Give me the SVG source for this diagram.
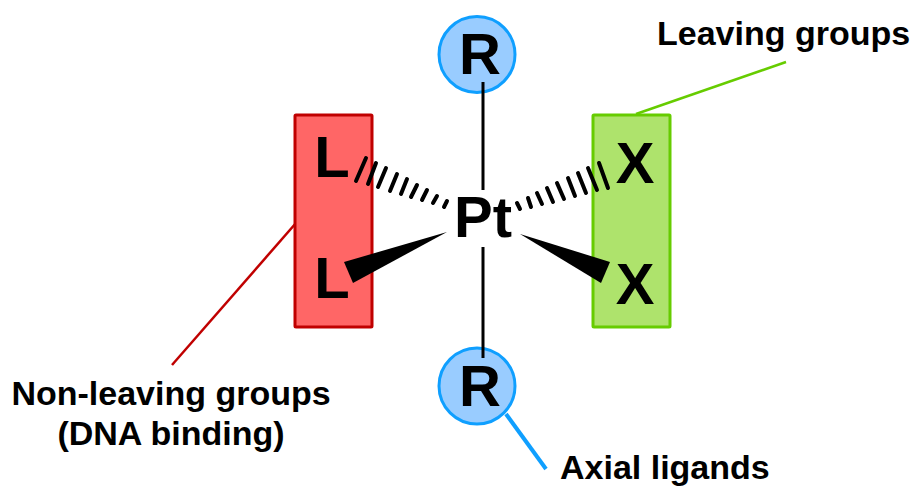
<svg xmlns="http://www.w3.org/2000/svg" width="914" height="486" viewBox="0 0 914 486">
<style>
text{font-family:"Liberation Sans",Arial,sans-serif;font-weight:bold;fill:#000}
.a{font-size:58px;text-anchor:middle}
.l{font-size:34px}
.c{fill:#99ccff;stroke:#0f9fff;stroke-width:3}
.b{stroke:#000;stroke-width:3;fill:none}
.h{stroke:#000;stroke-width:4;stroke-linecap:round;fill:none}
</style>
<rect width="914" height="486" fill="#fff"/>
<g id="connectors">
<path d="M172 365L296 223" stroke="#c00000" stroke-width="2.5" fill="none"/>
<path d="M636 114L786 62" stroke="#66cc00" stroke-width="2.5" fill="none"/>
<path d="M506 414L546 469" stroke="#0f9fff" stroke-width="4" fill="none"/>
</g>
<g id="node-L-box"><rect x="295" y="115" width="77" height="212" rx="1" fill="#ff6666" stroke="#c00000" stroke-width="3"/></g>
<g id="node-X-box"><rect x="593" y="115" width="77" height="212" rx="1" fill="#aee36c" stroke="#66cc00" stroke-width="3"/></g>
<g id="node-R-top"><circle class="c" cx="477" cy="54.5" r="38"/><text class="a" x="480" y="74">R</text></g>
<g id="node-R-bottom"><circle class="c" cx="477" cy="386" r="38"/><text class="a" x="480" y="406">R</text></g>
<g id="connectors-bonds">
<path class="b" d="M483 82V190M483 247V358"/>
<path d="M344 262L353 283L447 232Z"/>
<path d="M520 234L610 262L601 283Z"/>
<path class="h" d="M356 181L366 158M368 184L376 163M378 187L386 168M390 191L397 174M401 194L407 179M411 197L417 185M422 200L427 190M433 203L437 196M444 207L447 201"/>
<path class="h" d="M608 188L599 163M597 190L588 168M586 193L578 173M575 196L568 178M564 199L557 183M553 202L547 188M542 204L537 193M531 207L528 198M520 209L517 203"/>
</g>
<g id="node-Pt"><text class="a" x="483" y="237">Pt</text></g>
<g id="node-L1"><text class="a" x="332" y="177">L</text></g>
<g id="node-L2"><text class="a" x="332" y="298">L</text></g>
<g id="node-X1"><text class="a" x="635" y="183">X</text></g>
<g id="node-X2"><text class="a" x="635" y="304">X</text></g>
<g id="label-leaving"><text class="l" x="657" y="45">Leaving groups</text></g>
<g id="label-nonleaving"><text class="l" x="171" y="405" text-anchor="middle">Non-leaving groups</text><text class="l" x="171" y="445" text-anchor="middle">(DNA binding)</text></g>
<g id="label-axial"><text class="l" x="560" y="479">Axial ligands</text></g>
</svg>
